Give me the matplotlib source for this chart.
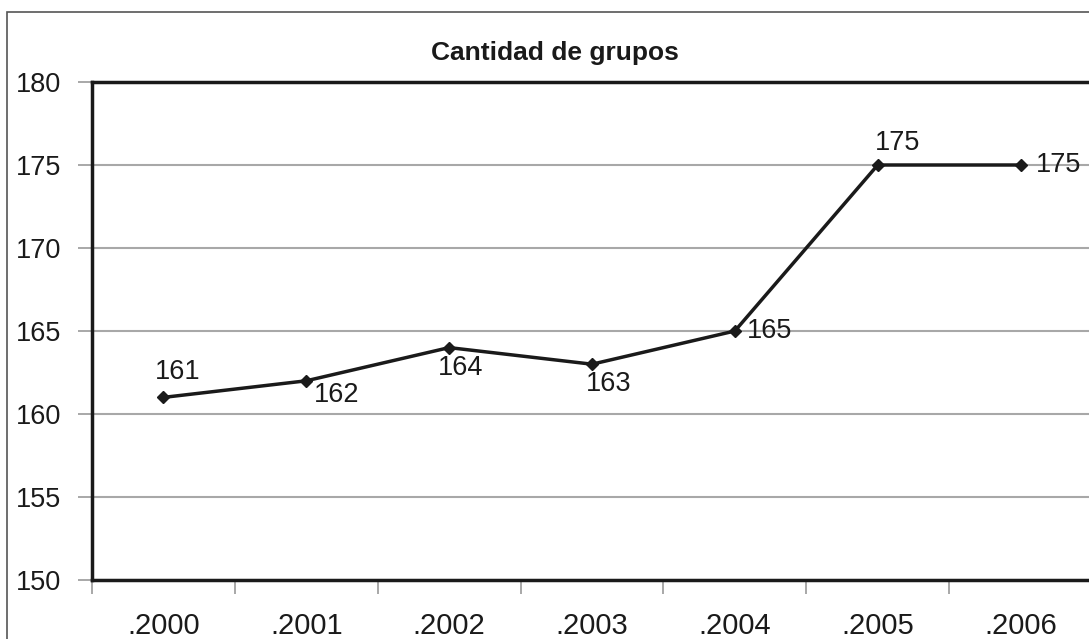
import numpy as np
import matplotlib.pyplot as plt
from matplotlib.patches import Rectangle

plt.rcParams['font.family'] = ['Liberation Sans', 'DejaVu Sans']

years = ['.2000', '.2001', '.2002', '.2003', '.2004', '.2005', '.2006']
grupos = [161, 162, 164, 163, 165, 175, 175]
# label offsets in points (dx, dy) for each data value
label_offsets = [(10, 18), (22, -10), (8, -15), (12, -14), (25, 0), (14, 16), (27, 0)]

fig = plt.figure(figsize=(10.89, 6.39), dpi=100)

# outer chart frame
fig.patches.append(Rectangle((7 / 1089, -0.1), 1.2, 1.1 - 12 / 639,
                             transform=fig.transFigure, fill=False,
                             edgecolor='#555555', linewidth=1.2))

ax = fig.add_axes([92 / 1089, 1 - 580 / 639, 1000 / 1089, 498 / 639])

x = np.arange(len(years))
ax.plot(x, grupos, color='#1a1a1a', linewidth=2.5, marker='D', markersize=6,
        zorder=3)
for xi, v, (dx, dy) in zip(x, grupos, label_offsets):
    ax.annotate(str(v), (xi, v), xytext=(dx, dy), textcoords='offset points',
                ha='center', va='center', fontsize=19.5, color='#1a1a1a')

ax.set_xlim(-0.5, 6.5)
ax.set_ylim(150, 180)
ax.set_yticks(np.arange(150, 181, 5))
ax.yaxis.grid(True, color='#a8a8a8', linewidth=1.5)
ax.set_axisbelow(True)

# category boundaries as ticks, year labels centred between them
ax.set_xticks(np.arange(-0.5, 7, 1))
ax.set_xticklabels([])
ax.set_xticks(x, minor=True)
ax.set_xticklabels(years, minor=True)
ax.tick_params(axis='x', which='major', length=10, width=1.2, color='#999999')
ax.tick_params(axis='x', which='minor', length=0, pad=23, labelsize=21,
               labelcolor='#1a1a1a')
ax.tick_params(axis='y', length=10, width=1.2, color='#999999', pad=12,
               labelsize=19.5, labelcolor='#1a1a1a')

for side in ['left', 'top', 'bottom', 'right']:
    ax.spines[side].set_color('#1a1a1a')
    ax.spines[side].set_linewidth(2.5)

fig.text(555 / 1089, 1 - 53 / 639, 'Cantidad de grupos', ha='center',
         va='center', fontsize=19, fontweight='bold', color='#1a1a1a')

fig.savefig('out.png', dpi=100)
